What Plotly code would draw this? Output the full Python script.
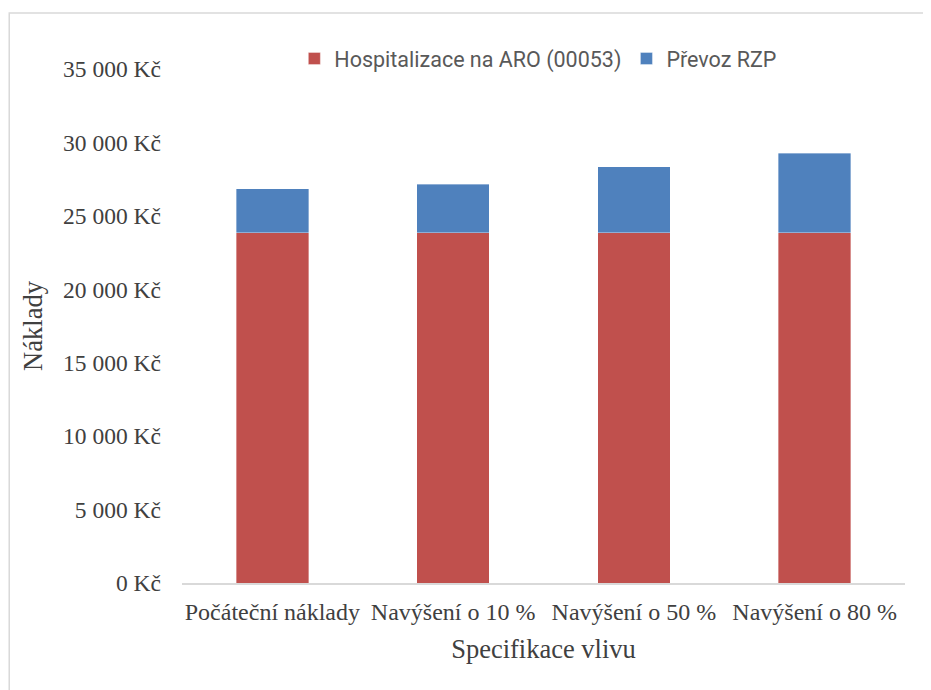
import plotly.graph_objects as go

categories = ["Počáteční náklady", "Navýšení o 10 %", "Navýšení o 50 %", "Navýšení o 80 %"]
hospitalizace = [23850, 23850, 23850, 23850]
prevoz = [3000, 3300, 4500, 5400]
tick_vals = [0, 5000, 10000, 15000, 20000, 25000, 30000, 35000]
tick_text = ["0 Kč", "5 000 Kč", "10 000 Kč", "15 000 Kč", "20 000 Kč", "25 000 Kč", "30 000 Kč", "35 000 Kč"]

# page has an 8px body margin; figure coords = page coords - 8
W, H = 931, 682
L, R, T, B = 173.5, 33.5, 60.5, 107
pw, ph = W - L - R, H - T - B

serif = "Liberation Serif, Times New Roman, serif"
sans = "Roboto, sans-serif"

fig = go.Figure()
fig.add_trace(go.Bar(x=categories, y=hospitalizace, name="Hospitalizace na ARO (00053)",
                     marker=dict(color="#C0504D", line=dict(color="rgba(255,255,255,0.45)", width=0.8))))
fig.add_trace(go.Bar(x=categories, y=prevoz, name="Převoz RZP",
                     marker=dict(color="#4F81BD", line=dict(color="rgba(255,255,255,0.45)", width=0.8))))

def px_x(p):
    return (p - L) / pw

def px_y(p):
    return (H - B - p) / ph

fig.update_layout(
    width=W, height=H,
    barmode="stack", bargap=0.6,
    plot_bgcolor="white", paper_bgcolor="white",
    margin=dict(l=L, r=R, t=T, b=B, autoexpand=False),
    showlegend=True,
    legend=dict(orientation="h", x=px_x(286), y=px_y(50), xanchor="left", yanchor="middle",
                font=dict(family=sans, size=21.5, color="#595959"), itemwidth=30,
                bgcolor="rgba(0,0,0,0)", traceorder="normal"),
    xaxis=dict(showline=True, linecolor="#d9d9d9", linewidth=1.5, ticks="",
               tickfont=dict(family=serif, size=24, color="#404040"), ticklabelstandoff=6,
               title=dict(text="Specifikace vlivu", font=dict(family=serif, size=26.5, color="#404040"), standoff=16),
               showgrid=False),
    yaxis=dict(range=[0, 35000], tickvals=tick_vals, ticktext=tick_text, showgrid=False,
               zeroline=False, showline=False, ticks="", ticklabelstandoff=20,
               tickfont=dict(family=serif, size=23.5, color="#404040"),
               title=dict(text="Náklady", font=dict(family=serif, size=26.5, color="#404040"), standoff=12)),
    shapes=[dict(type="rect", xref="paper", yref="paper",
                 x0=px_x(0.5), x1=px_x(922.5), y0=px_y(700), y1=px_y(4.5),
                 line=dict(color="#d9d9d9", width=1.5), fillcolor="rgba(0,0,0,0)", layer="below")],
)

fig.write_html("out.html")
